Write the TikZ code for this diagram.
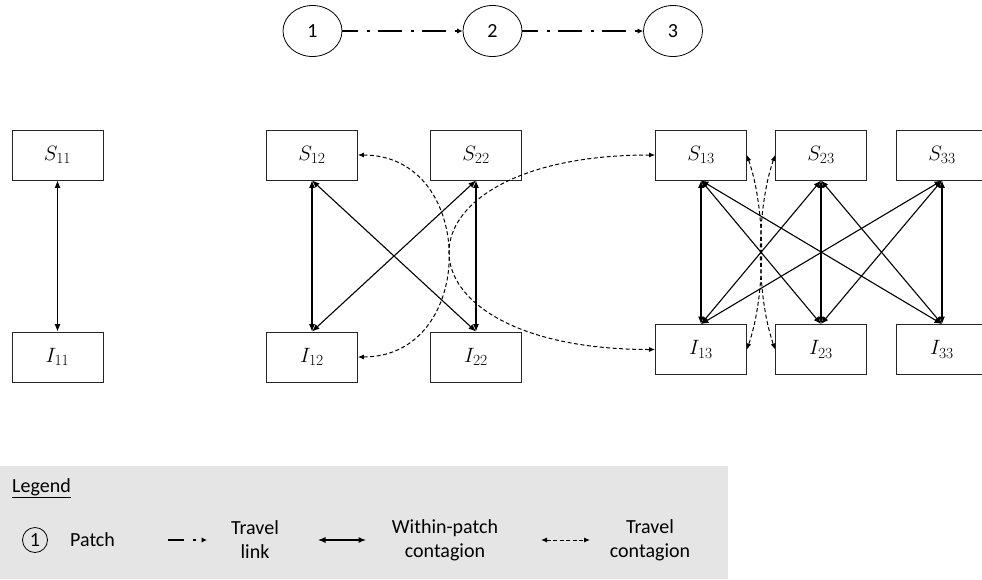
\documentclass[tikz,border=0pt]{standalone}
\usepackage{fontspec}
\setmainfont{Carlito}
\usetikzlibrary{arrows.meta,shapes.geometric}
\newcommand{\boxlab}[2]{$#1_{\mbox{\fontsize{15.5}{18}\fontfamily{lmr}\selectfont #2}}$}
\begin{document}
\begin{tikzpicture}[x=1pt,y=-1pt,
  box/.style={draw=black!85,line width=0.8pt,minimum width=91pt,minimum height=50pt,inner sep=0pt,font=\fontsize{20}{24}\selectfont},
  patchnode/.style={draw=black,line width=0.8pt,ellipse,minimum width=59pt,minimum height=51pt,inner sep=0pt,font=\fontsize{20}{24}\selectfont},
  travel/.style={line width=1.5pt,dash pattern=on 24pt off 9pt on 3pt off 8pt,dash phase=8pt,-{Latex[length=5.5pt,width=5.5pt]}},
  within/.style={line width=1.1pt,{Latex[length=7.5pt,width=6pt]}-{Latex[length=7.5pt,width=6pt]}},
  contag/.style={line width=1pt,dash pattern=on 4pt off 2.5pt,{Latex[length=6pt,width=5pt]}-{Latex[length=6pt,width=5pt]}},
  legtext/.style={font=\fontsize{20}{24}\selectfont,align=center,inner sep=0pt}]
\useasboundingbox (0,0) rectangle (982,579);
% patches
\node[patchnode] (P1) at (312.5,31) {1};
\node[patchnode] (P2) at (492.5,31) {2};
\node[patchnode] (P3) at (673,31) {3};
\draw[travel] (P1) -- (P2);
\draw[travel] (P2) -- (P3);
% boxes
\node[box] (S11) at (57.5,155) {\boxlab{S}{11}};
\node[box] (I11) at (57.5,357) {\boxlab{I}{11}};
\node[box] (S12) at (312,155) {\boxlab{S}{12}};
\node[box] (I12) at (312,357) {\boxlab{I}{12}};
\node[box] (S22) at (476,155) {\boxlab{S}{22}};
\node[box] (I22) at (476,357) {\boxlab{I}{22}};
\node[box] (S13) at (701,155) {\boxlab{S}{13}};
\node[box] (S23) at (821,155) {\boxlab{S}{23}};
\node[box] (S33) at (942,155) {\boxlab{S}{33}};
\node[box] (I13) at (701,349.5) {\boxlab{I}{13}};
\node[box] (I23) at (821,349.5) {\boxlab{I}{23}};
\node[box] (I33) at (942,349.5) {\boxlab{I}{33}};
% within-patch contagion
\draw[within] (S11.south) -- (I11.north);
\foreach \a in {12,22}{\foreach \b in {12,22}{\draw[within] (S\a.south) -- (I\b.north);}}
\foreach \a in {13,23,33}{\foreach \b in {13,23,33}{\draw[within] (S\a.south) -- (I\b.north);}}
% travel contagion
\draw[contag] (S12.east) .. controls +(120,0) and +(120,0) .. (I12.east);
\draw[contag] (S13.west) .. controls +(-273,0) and +(-273,0) .. (I13.west);
\draw[contag] (S13.east) .. controls +(19,55) and +(19,-55) .. (I13.east);
\draw[contag] (S23.west) .. controls +(-19,55) and +(-19,-55) .. (I23.west);
% legend
\fill[black!10] (0,466) rectangle (728,579);
\node[legtext,anchor=west] (legt) at (12,488) {\underline{Legend}};
\node[draw=black,line width=0.8pt,circle,minimum size=25pt,inner sep=0pt,font=\fontsize{20}{24}\selectfont] (lc) at (35,540) {1};
\node[legtext,anchor=west] (lpatch) at (70,540) {Patch};
\coordinate (la1) at (168,540); \coordinate (la2) at (207,540);
\draw[travel] (la1) -- (la2);
\node[legtext] (ltl) at (255,540) {Travel\\link};
\coordinate (lb1) at (318,540); \coordinate (lb2) at (366,540);
\draw[within] (lb1) -- (lb2);
\node[legtext] (lwp) at (445,540) {Within-patch\\contagion};
\coordinate (lc1) at (541,540); \coordinate (lc2) at (590,540);
\draw[contag] (lc1) -- (lc2);
\node[legtext] (ltc) at (650,540) {Travel\\contagion};
\end{tikzpicture}
\end{document}
